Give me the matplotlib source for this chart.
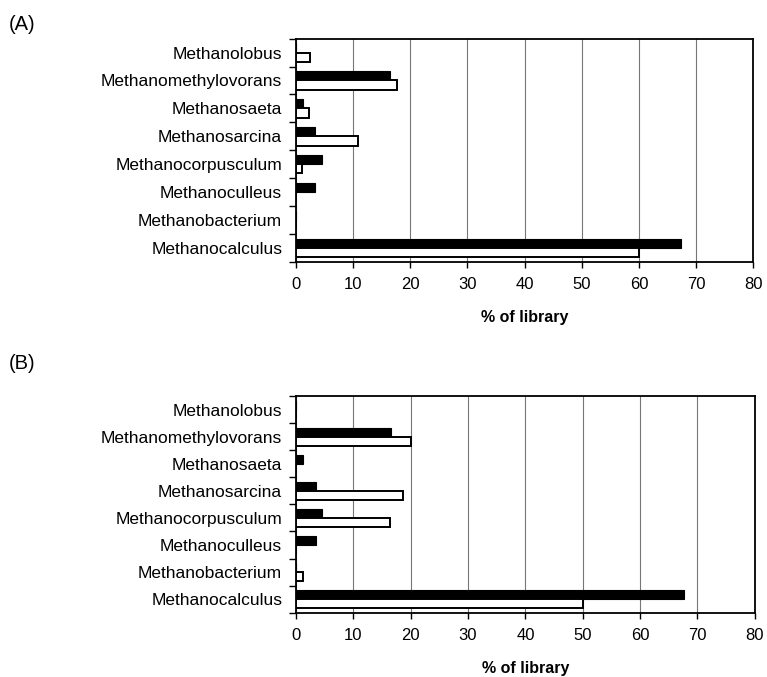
import numpy as np
import matplotlib.pyplot as plt

plt.rcParams['font.family'] = ['Liberation Sans', 'DejaVu Sans']

# genera, listed top to bottom
genera = ['Methanolobus', 'Methanomethylovorans', 'Methanosaeta', 'Methanosarcina',
          'Methanocorpusculum', 'Methanoculleus', 'Methanobacterium', 'Methanocalculus']

# black bars (same in both panels)
black_a = [0, 16.4, 1.2, 3.4, 4.5, 3.3, 0, 67.4]
white_a = [2.4, 17.6, 2.3, 10.9, 1.1, 0, 0, 60.0]

black_b = [0, 16.5, 1.2, 3.4, 4.5, 3.4, 0, 67.6]
white_b = [0, 20.0, 0, 18.7, 16.4, 0, 1.2, 50.0]

xticks = [0, 10, 20, 30, 40, 50, 60, 70, 80]


def draw_panel(ax, black, white):
    n = len(genera)
    y = np.arange(n)[::-1]
    h = 0.33
    ax.barh(y + h / 2, black, height=h, color='black', edgecolor='black', lw=0.8, zorder=3)
    ax.barh(y - h / 2, white, height=h, color='white', edgecolor='black', lw=1.4, zorder=3)

    ax.set_xlim(0, 80)
    ax.set_ylim(-0.5, n - 0.5)
    ax.set_xticks(xticks)
    ax.set_xticklabels([str(t) for t in xticks], fontsize=12)
    ax.tick_params(axis='x', length=4, pad=7, width=1)

    # category labels at centres, ticks on the boundaries
    ax.set_yticks(y)
    ax.set_yticklabels(genera, fontsize=12.5)
    ax.tick_params(axis='y', which='major', length=0, pad=10)
    ax.set_yticks(np.arange(n + 1) - 0.5, minor=True)
    ax.tick_params(axis='y', which='minor', length=5, width=1)

    ax.grid(axis='x', color='#777777', lw=0.8, zorder=0)
    for s in ax.spines.values():
        s.set_linewidth(1.3)
    ax.set_xlabel('% of library', fontsize=11.5, fontweight='bold', labelpad=13)


fig = plt.figure(figsize=(7.67, 6.77), dpi=100)

ax1 = fig.add_axes([0.386, 0.613, 0.596, 0.330])
draw_panel(ax1, black_a, white_a)
fig.text(0.012, 0.955, '(A)', fontsize=14.5)

ax2 = fig.add_axes([0.386, 0.095, 0.598, 0.320])
draw_panel(ax2, black_b, white_b)
fig.text(0.012, 0.455, '(B)', fontsize=14.5)

plt.savefig('out.png', dpi=100)
